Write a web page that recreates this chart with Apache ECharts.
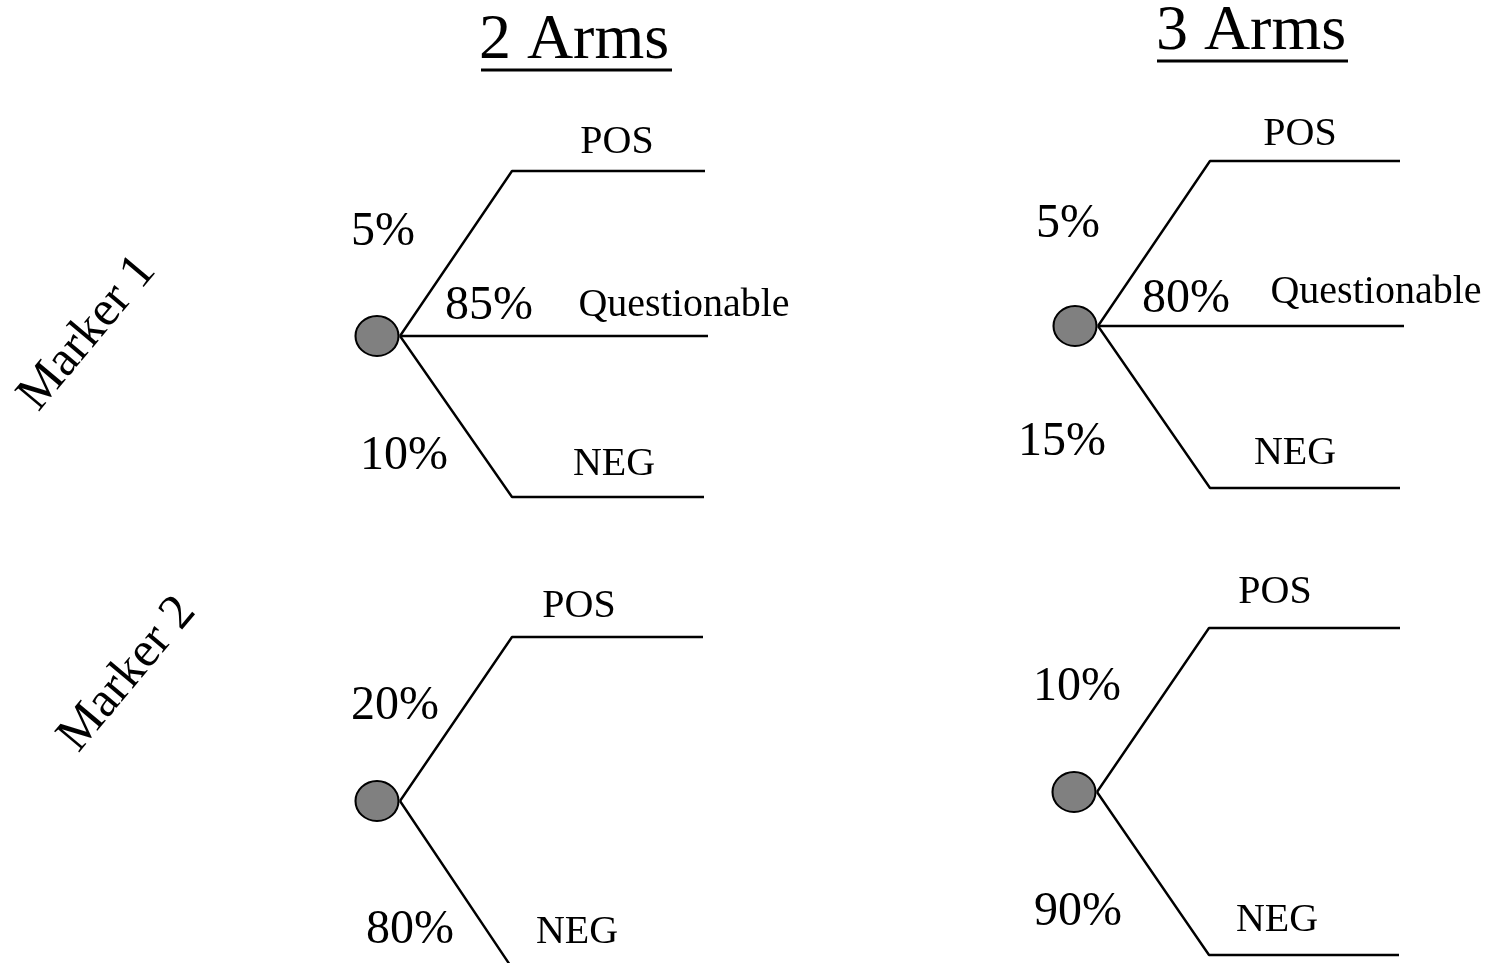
<!DOCTYPE html>
<html>
<head>
<meta charset="utf-8">
<style>
  html, body { margin: 0; padding: 0; background: #fff; }
  #chart { width: 1496px; height: 963px; }
</style>
<script src="https://cdn.jsdelivr.net/npm/echarts@6/dist/echarts.min.js"></script>
</head>
<body>
<div id="chart"></div>
<script>
// column / row headings and arm names
const colTitles = ['2 Arms', '3 Arms'];
const rowTitles = ['Marker 1', 'Marker 2'];
const outcomes = ['POS', 'Questionable', 'NEG'];

// probabilities in %, order POS / Questionable / NEG (null = no arm)
const marker1TwoArms = [5, 85, 10];
const marker1ThreeArms = [5, 80, 15];
const marker2TwoArms = [20, null, 80];
const marker2ThreeArms = [10, null, 90];

// layout in page pixels (axes run 0..1496 and 0..963)
const trees = [
  { probs: marker1TwoArms, cx: 377, cy: 336, upY: 171, downY: 497, endX: [705, 708, 704],
    pctPos: [[383, 230], [489, 304], [404, 454]], namePos: [[617, 140], [684, 303], [614, 462]] },
  { probs: marker1ThreeArms, cx: 1075, cy: 326, upY: 161, downY: 488, endX: [1400, 1404, 1400],
    pctPos: [[1068, 222], [1186, 297], [1062, 440]], namePos: [[1300, 132], [1376, 290], [1295, 451]] },
  { probs: marker2TwoArms, cx: 377, cy: 801, upY: 637, downY: 968, endX: [703, 0, 703],
    pctPos: [[395, 704], null, [410, 928]], namePos: [[579, 604], null, [577, 930]] },
  { probs: marker2ThreeArms, cx: 1074, cy: 792, upY: 628, downY: 955, endX: [1400, 0, 1399],
    pctPos: [[1077, 685], null, [1078, 910]], namePos: [[1275, 590], null, [1277, 918]] }
];
const titlePos = [[574, 39], [1251, 30]];
const underlines = [[481, 672, 70], [1157, 1348, 61]];
const rowTitlePos = [[86, 332], [126, 673]];

const font = '"Liberation Serif", "Times New Roman", serif';
const series = [];
const texts = [];
const nodes = [];

const lineBase = { type: 'line', symbol: 'none', silent: true, z: 2,
  lineStyle: { color: '#000', width: 2.4 } };

trees.forEach(t => {
  const sx = t.cx + 23, ex = t.cx + 135;
  const ys = [t.upY, t.cy, t.downY];
  t.probs.forEach((p, i) => {
    if (p == null) return;
    const pts = i === 1
      ? [[sx, t.cy], [t.endX[i], t.cy]]
      : [[sx, t.cy], [ex, ys[i]], [t.endX[i], ys[i]]];
    series.push(Object.assign({}, lineBase, { data: pts }));
    texts.push({ name: p + '%', value: t.pctPos[i], label: { fontSize: 48 } });
    texts.push({ name: outcomes[i], value: t.namePos[i], label: { fontSize: 40 } });
  });
  nodes.push([t.cx, t.cy]);
});

colTitles.forEach((c, i) => {
  texts.push({ name: c, value: titlePos[i], label: { fontSize: 64 } });
  const u = underlines[i];
  series.push(Object.assign({}, lineBase, { data: [[u[0], u[2]], [u[1], u[2]]],
    lineStyle: { color: '#000', width: 3 } }));
});
rowTitles.forEach((r, i) => {
  texts.push({ name: r, value: rowTitlePos[i], label: { fontSize: 50, rotate: 50 } });
});

series.push({
  type: 'scatter', data: nodes, symbol: 'circle', symbolSize: [43, 40], z: 3, silent: true,
  itemStyle: { color: '#808080', borderColor: '#000', borderWidth: 2, opacity: 1 }
});
series.push({
  type: 'scatter', data: texts, symbolSize: 0, z: 4, silent: true,
  itemStyle: { opacity: 1 },
  label: { show: true, position: 'inside', formatter: '{b}', color: '#000', opacity: 1,
    fontFamily: font, align: 'center', verticalAlign: 'middle', offset: [0, 2] }
});

const chart = echarts.init(document.getElementById('chart'));
chart.setOption({
  animation: false,
  backgroundColor: '#fff',
  grid: { left: 0, right: 0, top: 0, bottom: 0 },
  xAxis: { type: 'value', min: 0, max: 1496, show: false },
  yAxis: { type: 'value', min: 0, max: 963, inverse: true, show: false },
  series: series
});
</script>
</body>
</html>
